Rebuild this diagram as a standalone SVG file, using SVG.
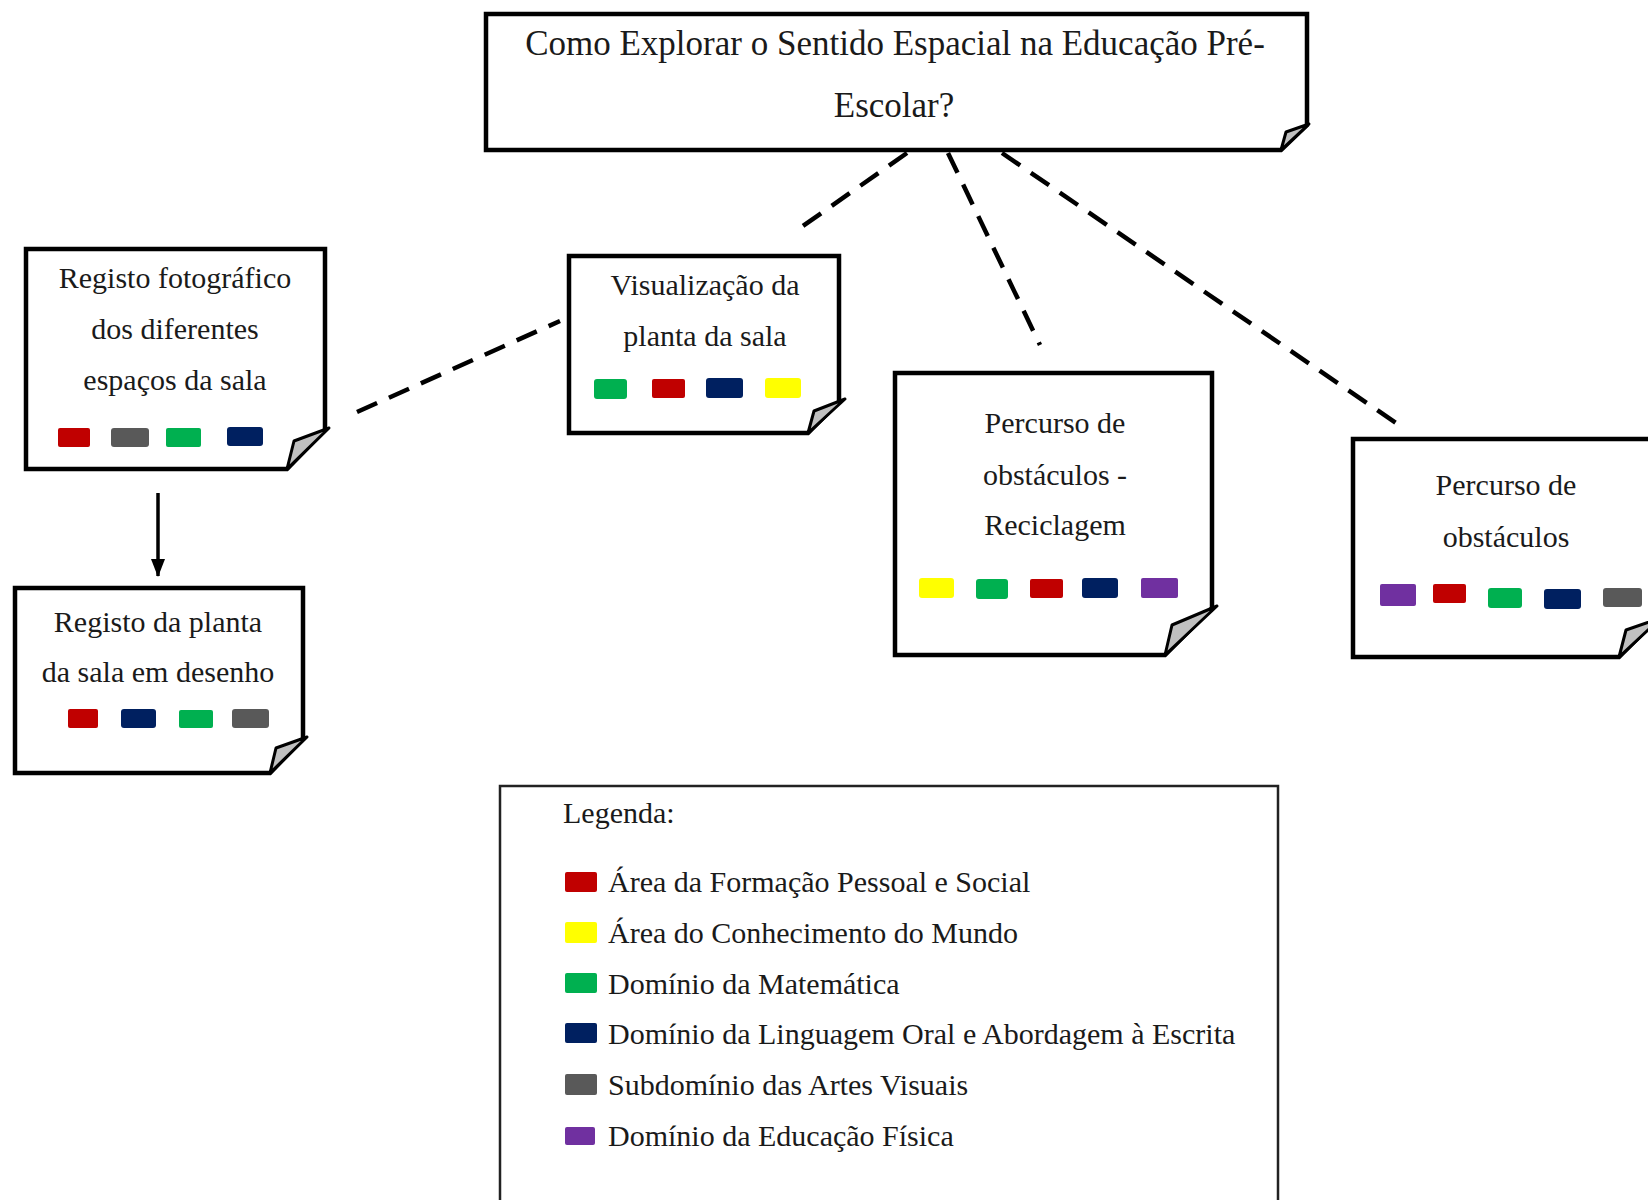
<svg xmlns="http://www.w3.org/2000/svg" width="1648" height="1200" viewBox="0 0 1648 1200">
<defs>
<style>
.note{fill:#fff;stroke:#000;stroke-width:4.5;stroke-linejoin:miter}
.fold{fill:#c0c0c0;stroke:#000;stroke-width:3;stroke-linejoin:round}
.t{font-family:"Liberation Serif","Times New Roman",serif;font-size:30px;fill:#1a1a1a;text-anchor:middle}
.title{font-size:35px}
.lt{font-family:"Liberation Serif","Times New Roman",serif;font-size:30px;fill:#1a1a1a}
.dash{fill:none;stroke:#000;stroke-width:4.5;stroke-dasharray:22 13}
.r{fill:#C00000}.g{fill:#00B050}.b{fill:#002060}.y{fill:#FFFF00}.k{fill:#595959}.p{fill:#7030A0}
</style>
<marker id="ah" viewBox="0 0 18 14" refX="17" refY="7" markerWidth="18" markerHeight="14" orient="auto" markerUnits="userSpaceOnUse">
<path d="M0,0 L18,7 L0,14 Z" fill="#000"/>
</marker>
</defs>
<rect width="1648" height="1200" fill="#fff"/>

<g id="connectors">
<line class="dash" x1="907" y1="153" x2="793" y2="233"/>
<line class="dash" x1="948" y1="153" x2="1040" y2="345"/>
<line class="dash" x1="1002" y1="153" x2="1396" y2="423"/>
<line class="dash" x1="357" y1="412" x2="560" y2="321"/>
<line x1="158" y1="493" x2="158" y2="576" stroke="#000" stroke-width="3.5" marker-end="url(#ah)"/>
</g>

<g id="node-title">
<path class="note" d="M486,14 H1307 V125 L1281,150 H486 Z"/>
<polygon class="fold" points="1281,150 1286,132 1309,124"/>
<text class="t title" x="895" y="55">Como Explorar o Sentido Espacial na Educação Pré-</text>
<text class="t title" x="894" y="117">Escolar?</text>
</g>

<g id="node-registo-fotografico">
<path class="note" d="M26,249 H325 V430 L287,469 H26 Z"/>
<polygon class="fold" points="287,469 294,441 329,428"/>
<text class="t" x="175" y="288">Registo fotográfico</text>
<text class="t" x="175" y="339">dos diferentes</text>
<text class="t" x="175" y="390">espaços da sala</text>
<rect class="r" x="58" y="428" width="32" height="19" rx="2"/>
<rect class="k" x="111" y="428" width="38" height="19" rx="3"/>
<rect class="g" x="166" y="428" width="35" height="19" rx="2"/>
<rect class="b" x="227" y="427" width="36" height="19" rx="3"/>
</g>

<g id="node-registo-planta">
<path class="note" d="M15,588 H303 V739 L270,773 H15 Z"/>
<polygon class="fold" points="270,773 276,748 307,737"/>
<text class="t" x="158" y="632">Registo da planta</text>
<text class="t" x="158" y="682">da sala em desenho</text>
<rect class="r" x="68" y="709" width="30" height="19" rx="2"/>
<rect class="b" x="121" y="709" width="35" height="19" rx="3"/>
<rect class="g" x="179" y="710" width="34" height="18" rx="2"/>
<rect class="k" x="232" y="709" width="37" height="19" rx="3"/>
</g>

<g id="node-visualizacao">
<path class="note" d="M569,256 H839 V402 L808,433 H569 Z"/>
<polygon class="fold" points="808,433 814,411 845,399"/>
<text class="t" x="705" y="295">Visualização da</text>
<text class="t" x="705" y="346">planta da sala</text>
<rect class="g" x="594" y="379" width="33" height="20" rx="3"/>
<rect class="r" x="652" y="379" width="33" height="19" rx="2"/>
<rect class="b" x="706" y="378" width="37" height="20" rx="3"/>
<rect class="y" x="765" y="378" width="36" height="20" rx="3"/>
</g>

<g id="node-percurso-reciclagem">
<path class="note" d="M895,373 H1212 V608 L1165,655 H895 Z"/>
<polygon class="fold" points="1165,655 1172,625 1217,606"/>
<text class="t" x="1055" y="433">Percurso de</text>
<text class="t" x="1055" y="485">obstáculos -</text>
<text class="t" x="1055" y="535">Reciclagem</text>
<rect class="y" x="919" y="578" width="35" height="20" rx="3"/>
<rect class="g" x="976" y="579" width="32" height="20" rx="3"/>
<rect class="r" x="1030" y="579" width="33" height="19" rx="2"/>
<rect class="b" x="1082" y="578" width="36" height="20" rx="3"/>
<rect class="p" x="1141" y="578" width="37" height="20" rx="2"/>
</g>

<g id="node-percurso">
<path class="note" d="M1353,439 H1656 V620 L1619,657 H1353 Z"/>
<polygon class="fold" points="1619,657 1626,630 1661,618"/>
<text class="t" x="1506" y="495">Percurso de</text>
<text class="t" x="1506" y="547">obstáculos</text>
<rect class="p" x="1380" y="584" width="36" height="22" rx="2"/>
<rect class="r" x="1433" y="584" width="33" height="19" rx="2"/>
<rect class="g" x="1488" y="588" width="34" height="20" rx="3"/>
<rect class="b" x="1544" y="589" width="37" height="20" rx="3"/>
<rect class="k" x="1603" y="588" width="39" height="19" rx="3"/>
</g>

<g id="legend">
<rect x="500" y="786" width="778" height="500" fill="#fff" stroke="#222" stroke-width="2.5"/>
<text class="lt" x="563" y="823">Legenda:</text>
<rect class="r" x="565" y="872" width="32" height="20" rx="2"/>
<text class="lt" x="608" y="892">Área da Formação Pessoal e Social</text>
<rect class="y" x="565" y="922" width="32" height="21" rx="2"/>
<text class="lt" x="608" y="943">Área do Conhecimento do Mundo</text>
<rect class="g" x="565" y="973" width="32" height="20" rx="2"/>
<text class="lt" x="608" y="994">Domínio da Matemática</text>
<rect class="b" x="565" y="1023" width="32" height="20" rx="2"/>
<text class="lt" x="608" y="1044">Domínio da Linguagem Oral e Abordagem à Escrita</text>
<rect class="k" x="565" y="1074" width="32" height="21" rx="2"/>
<text class="lt" x="608" y="1095">Subdomínio das Artes Visuais</text>
<rect class="p" x="565" y="1127" width="30" height="18" rx="2"/>
<text class="lt" x="608" y="1146">Domínio da Educação Física</text>
</g>
</svg>
